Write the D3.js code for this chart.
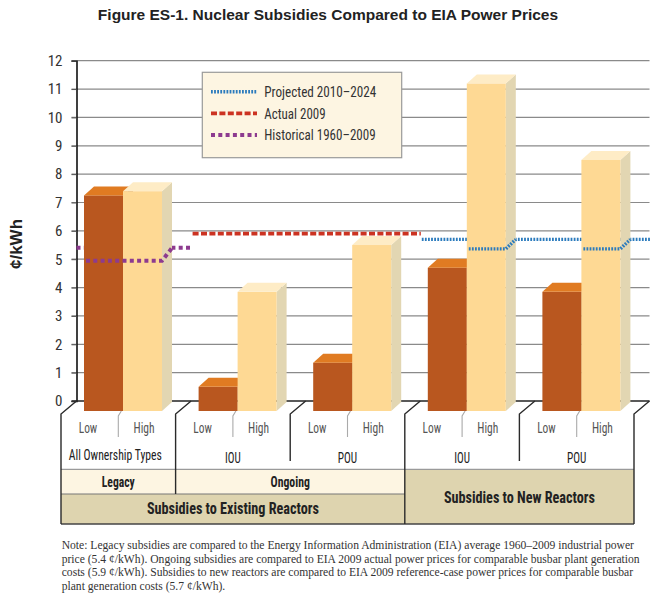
<!DOCTYPE html>
<html><head><meta charset="utf-8">
<script src="https://cdn.jsdelivr.net/npm/d3@7"></script>
<style>body{margin:0;background:#fff}</style>
</head><body><svg id="c" width="656" height="600"></svg>
<script>
// ---------- data ----------
const groups = ["Legacy", "Ongoing IOU", "Ongoing POU", "New IOU", "New POU"];
const levels = ["Low", "High"];
const lowValues = [7.25, 0.5, 1.35, 4.7, 3.85];
const highValues = [7.4, 3.85, 5.5, 11.2, 8.5];
const ownershipLabels = ["All Ownership Types", "IOU", "POU", "IOU", "POU"];
const yTicks = [0, 1, 2, 3, 4, 5, 6, 7, 8, 9, 10, 11, 12];
const priceNames = ["Projected 2010–2024", "Actual 2009", "Historical 1960–2009"];
const priceValues = [5.7, 5.9, 5.4];
const priceFirstGroup = [3, 1, 0];
const priceLastGroup = [4, 2, 0];
const tierLabels = ["Legacy", "Ongoing"];
const tierFirst = [0, 1];
const tierLast = [0, 2];
const sectionLabels = ["Subsidies to Existing Reactors", "Subsidies to New Reactors"];
const sectionFirst = [0, 3];
const sectionLast = [2, 4];
const title = "Figure ES-1. Nuclear Subsidies Compared to EIA Power Prices";
const yLabel = "¢/kWh";
const noteLines = [
  "Note: Legacy subsidies are compared to the Energy Information Administration (EIA) average 1960–2009 industrial power",
  "price (5.4 ¢/kWh). Ongoing subsidies are compared to EIA 2009 actual power prices for comparable busbar plant generation",
  "costs (5.9 ¢/kWh). Subsidies to new reactors are compared to EIA 2009 reference-case power prices for comparable busbar",
  "plant generation costs (5.7 ¢/kWh)."
];

// ---------- styles ----------
const COND = "'Liberation Sans Narrow','Roboto Condensed','Arial Narrow',sans-serif";
const priceColors = ["#2b7bbd", "#cc3322", "#8d3b8f"];
const priceDash = ["1.8,1.3", "6,2.4", "4,3.3"];
const priceWidth = [3.4, 3.8, 4];
const priceDrop = [9.5, 0, 13];
const legendTextLen = [112, 61.3, 111.3];
const levelTextLen = [18.5, 21];
const ownTextLen = [93, 15.7, 19.3, 15.7, 19.3];
const tierTextLen = [33, 39.3];
const sectionTextLen = [172, 151];
const barFront = {Low: "#b9571f", High: "#fed994"};
const barTop = {Low: "#e07b22", High: "#feecc6"};
const barSide = {Low: "#8f4418", High: "#e2d6b2"};
const cream = "#fdf5e2", tan = "#ded4af";

const svg = d3.select("#c");
const x = d3.scaleBand().domain(groups).range([61, 634]);
const sub = d3.scaleBand().domain(levels).range([23, 101]);
const y = d3.scaleLinear().domain([0, 12]).range([401, 60.7]);
const bdx = 10, bdy = 9;      // bar depth
const fdx = 15.5, fdy = 13;   // floor depth
const barBase = y(0) + 10;
const axisX = x(groups[0]) + fdx;
const rightX = x.range()[1] + fdx;
const bw = x.bandwidth();

function fit(sel, len) {
  return sel.attr("textLength", len).attr("lengthAdjust", "spacingAndGlyphs");
}

// title
svg.append("text").attr("x", 328).attr("y", 20).attr("text-anchor", "middle")
  .attr("font-family", "'Liberation Sans',Arial,sans-serif").attr("font-weight", "bold")
  .attr("font-size", 15.5).attr("fill", "#222").text(title);

// y label
svg.append("text").attr("transform", `translate(22,244) rotate(-90)`).attr("text-anchor", "middle")
  .attr("font-family", "'Liberation Sans',Arial,sans-serif").attr("font-weight", "bold")
  .attr("font-size", 17).attr("fill", "#222").text(yLabel);

// gridlines
const grid = svg.append("g");
grid.selectAll("line").data(yTicks.filter(d => d > 0)).join("line")
  .attr("x1", axisX - 5).attr("x2", rightX).attr("y1", d => y(d)).attr("y2", d => y(d))
  .attr("stroke", "#8a8a8a").attr("stroke-width", 1.2);

// y axis
const yAxis = d3.axisLeft(y).tickValues(yTicks).tickSize(5).tickPadding(9);
const ya = svg.append("g").attr("transform", `translate(${axisX},0)`).call(yAxis);
ya.select(".domain").attr("stroke", "#111").attr("stroke-width", 1.6);
ya.selectAll(".tick line").attr("stroke", "#555");
ya.selectAll(".tick text").attr("font-family", COND).attr("font-size", 15).attr("fill", "#333");

// zero line at back
svg.append("line").attr("x1", axisX - 5).attr("x2", rightX).attr("y1", y(0)).attr("y2", y(0))
  .attr("stroke", "#222").attr("stroke-width", 1.4);

// price lines (back level)
priceNames.forEach((n, i) => {
  const xs = x(groups[priceFirstGroup[i]]) + (i === 2 ? fdx : 17);
  const xe = x(groups[priceLastGroup[i]]) + bw + 16;
  svg.append("line").attr("x1", xs).attr("x2", xe).attr("y1", y(priceValues[i])).attr("y2", y(priceValues[i]))
    .attr("stroke", priceColors[i]).attr("stroke-width", priceWidth[i]).attr("stroke-dasharray", priceDash[i]);
});

// legend
const lg = svg.append("g");
lg.append("rect").attr("x", 202.3).attr("y", 72.3).attr("width", 199.4).attr("height", 85.4)
  .attr("fill", cream).attr("stroke", "#9a9a9a").attr("stroke-width", 1.2);
priceNames.forEach((n, i) => {
  const ly = 91.7 + i * 21.6;
  lg.append("line").attr("x1", 211).attr("x2", 257).attr("y1", ly).attr("y2", ly)
    .attr("stroke", priceColors[i]).attr("stroke-width", priceWidth[i]).attr("stroke-dasharray", priceDash[i]);
  fit(lg.append("text").attr("x", 264.3).attr("y", ly).attr("dy", "0.36em")
    .attr("font-family", COND).attr("font-size", 15).attr("fill", "#333").text(n), legendTextLen[i]);
});

// bars
const barData = [];
groups.forEach((g, gi) => {
  barData.push({g, level: "Low", v: lowValues[gi]});
  barData.push({g, level: "High", v: highValues[gi]});
});
const bars = svg.append("g");
barData.forEach(d => {
  const x0 = x(d.g) + sub(d.level), w = sub.bandwidth(), yt = y(d.v);
  bars.append("polygon")
    .attr("points", [[x0 + w, yt], [x0 + w + bdx, yt - bdy], [x0 + w + bdx, barBase - bdy], [x0 + w, barBase]].join(" "))
    .attr("fill", barSide[d.level]);
  bars.append("rect").attr("x", x0).attr("y", yt).attr("width", w).attr("height", barBase - yt)
    .attr("fill", barFront[d.level]);
  bars.append("polygon")
    .attr("points", [[x0, yt], [x0 + bdx, yt - bdy], [x0 + w + bdx, yt - bdy], [x0 + w, yt]].join(" "))
    .attr("fill", barTop[d.level]);
});

// price lines (front segments over taller bars)
priceNames.forEach((n, i) => {
  const v = priceValues[i];
  for (let gi = priceFirstGroup[i]; gi <= priceLastGroup[i]; gi++) {
    const over = barData.filter(d => d.g === groups[gi] && d.v > v);
    if (!over.length) continue;
    const l = x(groups[gi]) + sub(over[0].level);
    const r = x(groups[gi]) + sub(over[over.length - 1].level) + sub.bandwidth();
    const fy = y(v) + priceDrop[i];
    svg.append("path").attr("d", `M${l + 2},${fy}H${r}L${r + bdx},${y(v)}`)
      .attr("fill", "none").attr("stroke", priceColors[i]).attr("stroke-width", priceWidth[i])
      .attr("stroke-dasharray", priceDash[i]);
  }
});

// category table
const floorY = y(0) + fdy;
const rowA = 469.3, rowB = 494, rowEnd = 524, ownEnd = 461;
const tbl = svg.append("g");
tierLabels.forEach((t, i) => {
  const a = x(groups[tierFirst[i]]), b = x(groups[tierLast[i]]) + bw;
  tbl.append("rect").attr("x", a).attr("y", rowA).attr("width", b - a).attr("height", rowB - rowA).attr("fill", cream);
});
sectionLabels.forEach((t, i) => {
  const a = x(groups[sectionFirst[i]]), b = x(groups[sectionLast[i]]) + bw;
  const top = i === 0 ? rowB : rowA;
  tbl.append("rect").attr("x", a).attr("y", top).attr("width", b - a).attr("height", rowEnd - top).attr("fill", tan);
});
tbl.append("line").attr("x1", x.range()[0]).attr("x2", x.range()[1]).attr("y1", rowA).attr("y2", rowA)
  .attr("stroke", "#9a9a9a").attr("stroke-width", 1.2);
tbl.append("line").attr("x1", x.range()[0]).attr("x2", x(groups[3])).attr("y1", rowB).attr("y2", rowB)
  .attr("stroke", "#777").attr("stroke-width", 1.2);
tbl.append("line").attr("x1", x.range()[0]).attr("x2", x.range()[1]).attr("y1", rowEnd).attr("y2", rowEnd)
  .attr("stroke", "#444").attr("stroke-width", 1.3);
const boundaries = groups.map(g => x(g)).concat([x.range()[1]]);
const boundaryEnds = [rowEnd, rowB, ownEnd, rowEnd, ownEnd, rowEnd];
boundaries.forEach((bx, i) => {
  tbl.append("path").attr("d", `M${bx},${boundaryEnds[i]}V${floorY}L${bx + fdx},${y(0)}`)
    .attr("fill", "none").attr("stroke", "#2a2a2a").attr("stroke-width", 1.4);
});
groups.forEach(g => {
  const xm = x(g) + bw / 2;
  tbl.append("path").attr("d", `M${xm},437V${floorY + 2}L${xm + 3},${barBase}`)
    .attr("fill", "none").attr("stroke", "#aaa").attr("stroke-width", 1.1);
  levels.forEach((lv, li) => {
    fit(tbl.append("text").attr("x", x(g) + (li === 0 ? 27 : 83)).attr("y", 428).attr("dy", "0.36em")
      .attr("text-anchor", "middle").attr("font-family", COND).attr("font-size", 14.5).attr("fill", "#555").text(lv), levelTextLen[li]);
  });
});
ownershipLabels.forEach((t, i) => {
  fit(tbl.append("text").attr("x", x(groups[i]) + bw / 2 + (i === 0 ? -3 : 0)).attr("y", i === 0 ? 455 : 457.3).attr("dy", "0.36em")
    .attr("text-anchor", "middle").attr("font-family", COND).attr("font-size", 14.5).attr("fill", "#222").text(t), ownTextLen[i]);
});
tierLabels.forEach((t, i) => {
  const a = x(groups[tierFirst[i]]), b = x(groups[tierLast[i]]) + bw;
  fit(tbl.append("text").attr("x", (a + b) / 2).attr("y", 482).attr("dy", "0.36em").attr("text-anchor", "middle")
    .attr("font-family", COND).attr("font-weight", "bold").attr("font-size", 14.5).attr("fill", "#222").text(t), tierTextLen[i]);
});
sectionLabels.forEach((t, i) => {
  const a = x(groups[sectionFirst[i]]), b = x(groups[sectionLast[i]]) + bw;
  fit(tbl.append("text").attr("x", (a + b) / 2).attr("y", i === 0 ? 508.5 : 497).attr("dy", "0.36em").attr("text-anchor", "middle")
    .attr("font-family", COND).attr("font-weight", "bold").attr("font-size", 16).attr("fill", "#222").text(t), sectionTextLen[i]);
});

// note
svg.append("g").selectAll("text").data(noteLines).join("text")
  .attr("x", 61.7).attr("y", (d, i) => 549 + i * 13.5)
  .attr("font-family", "'Liberation Serif','Times New Roman',serif").attr("font-size", 11.6)
  .attr("fill", "#333").text(d => d);
</script></body></html>
